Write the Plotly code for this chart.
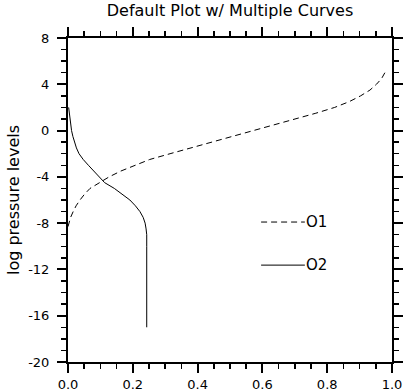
import plotly.graph_objects as go

# ---- data ----
o1_y = [-8.3, -8.0, -7.5, -7.0, -6.5, -6.0, -5.5, -5.0, -4.5, -4.0, -3.5, -3.0, -2.5,
        -2.0, -1.5, -1.0, -0.5, 0.0, 0.5, 1.0, 1.5, 2.0, 2.5, 3.0, 3.5, 4.0, 4.5, 5.0]
o1_x = [0.0, 0.003, 0.008, 0.016, 0.025, 0.037, 0.051, 0.068, 0.098, 0.127, 0.163, 0.207, 0.252,
        0.315, 0.38, 0.44, 0.505, 0.57, 0.64, 0.70, 0.765, 0.823, 0.868, 0.903, 0.932, 0.952, 0.968, 0.978]

o2_y = [2.0, 1.5, 1.0, 0.5, 0.0, -0.5, -1.0, -1.5, -2.0, -2.5, -3.0, -3.5, -4.0, -4.5,
        -5.0, -5.5, -6.0, -6.5, -7.0, -7.5, -8.0, -8.5, -9.0, -10.0, -11.0, -12.0, -13.0,
        -14.0, -15.0, -16.0, -17.0]
o2_x = [0.002, 0.004, 0.006, 0.008, 0.011, 0.015, 0.020, 0.026, 0.034, 0.047, 0.063, 0.080,
        0.094, 0.113, 0.143, 0.168, 0.191, 0.208, 0.222, 0.232, 0.238, 0.241, 0.243, 0.243,
        0.243, 0.243, 0.243, 0.243, 0.243, 0.243, 0.243]

series_names = ["O1", "O2"]
title_text = "Default Plot w/ Multiple Curves"
y_title = "log pressure levels"
x_ticks = [0.0, 0.2, 0.4, 0.6, 0.8, 1.0]
y_ticks = [-20, -16, -12, -8, -4, 0, 4, 8]

FONT = "DejaVu Sans, Liberation Sans, Arial, sans-serif"
dashes = ["6px,4px", "solid"]

fig = go.Figure()
fig.add_trace(go.Scatter(x=o1_x, y=o1_y, mode="lines", name=series_names[0],
                         line=dict(color="black", width=1, dash=dashes[0]), showlegend=False))
fig.add_trace(go.Scatter(x=o2_x, y=o2_y, mode="lines", name=series_names[1],
                         line=dict(color="black", width=1, dash=dashes[1]), showlegend=False))

# manual legend (lines + labels)
leg_y = [0.432, 0.299]
for i, name in enumerate(series_names):
    fig.add_shape(type="line", xref="paper", yref="paper", x0=0.596, x1=0.731,
                  y0=leg_y[i], y1=leg_y[i], line=dict(color="black", width=1, dash=dashes[i]))
    fig.add_annotation(xref="paper", yref="paper", x=0.731, y=leg_y[i], text=name,
                       showarrow=False, xanchor="left", yanchor="middle", xshift=-1,
                       font=dict(family=FONT, size=15, color="black"))

axis_common = dict(showgrid=False, zeroline=False, showline=True, linecolor="black",
                   linewidth=2, mirror="ticks", ticks="outside", ticklen=9, tickwidth=2,
                   tickcolor="black", tickfont=dict(family=FONT, size=13, color="black"))

fig.update_xaxes(range=[0, 1], tickvals=x_ticks, ticktext=[f"{v:.1f}" for v in x_ticks],
                 minor=dict(dtick=0.05, tick0=0, ticklen=5, tickwidth=1.5, tickcolor="black",
                            ticks="outside"),
                 **axis_common)
fig.update_yaxes(range=[-20, 8], tickvals=y_ticks, ticktext=[str(v) for v in y_ticks],
                 minor=dict(dtick=1, tick0=0, ticklen=5, tickwidth=1.5, tickcolor="black",
                            ticks="outside"),
                 ticklabelstandoff=5,
                 title=dict(text=y_title, font=dict(family=FONT, size=16, color="black"),
                            standoff=5),
                 **axis_common)

fig.update_layout(
    width=403, height=392,
    margin=dict(l=68, r=11, t=38, b=30, autoexpand=False),
    paper_bgcolor="white", plot_bgcolor="white",
    hovermode=False,
    title=dict(text=title_text, x=0.5, xref="paper", y=1 - 10 / 392, yref="container",
               yanchor="middle", font=dict(family=FONT, size=16, color="black")),
)

fig.write_html("out.html", config={"displayModeBar": False, "staticPlot": True},
               post_script="document.body.style.margin='0';")
